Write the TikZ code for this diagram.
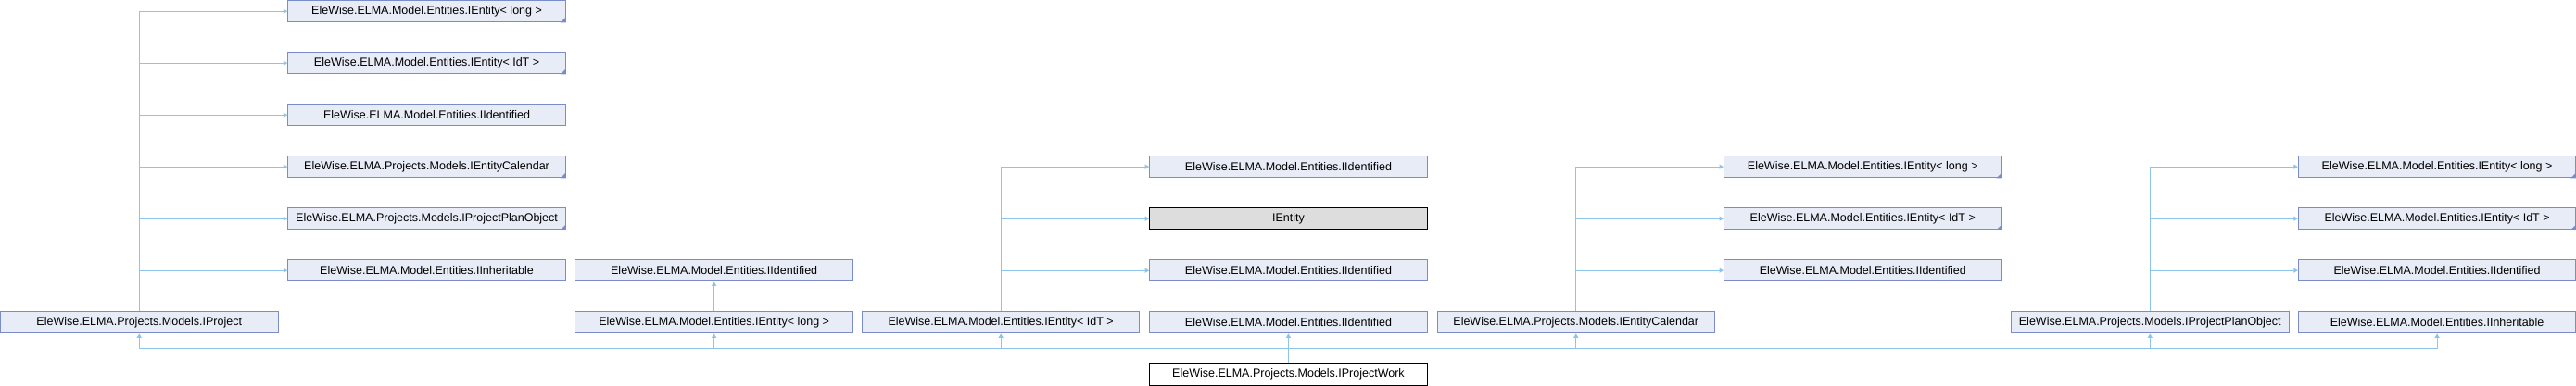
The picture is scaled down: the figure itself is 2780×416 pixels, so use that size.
\documentclass[tikz,border=0pt]{standalone}
\usepackage{fontspec}
\setmainfont{Liberation Sans}
\usetikzlibrary{arrows.meta,calc}
\definecolor{edgec}{HTML}{8DC5EA}
\definecolor{boxc}{HTML}{E8ECF6}
\definecolor{bordc}{HTML}{7B8DC8}
\definecolor{grayc}{HTML}{DDDDDD}
\tikzset{
  box/.style={draw=bordc, fill=boxc, line width=1pt, minimum width=299.5pt,
    minimum height=23.3pt, inner sep=0pt, anchor=north west,
    font=\fontsize{12.5}{14}\selectfont},
  graybox/.style={box, draw=black, fill=grayc},
  mainbox/.style={box, draw=black, fill=white},
  edge/.style={draw=edgec, line width=1.1pt, -{Triangle[length=4.5pt,width=5pt]}},
  trunc/.style={fill=bordc}
}
\newcommand{\truncmark}[1]{\fill[trunc] (#1.south east) -- ++(-6,0) -- ++(6,-6) -- cycle;}
\begin{document}
\begin{tikzpicture}[x=1pt,y=-1pt]
\useasboundingbox (0,0) rectangle (2780,416);
% column 0/1
\node[box] (p) at (0,336) {EleWise.ELMA.Projects.Models.IProject};
\node[box] (a0) at (310.3,0) {EleWise.ELMA.Model.Entities.IEntity< long >};
\node[box] (a1) at (310.3,56) {EleWise.ELMA.Model.Entities.IEntity< IdT >};
\node[box] (a2) at (310.3,112) {EleWise.ELMA.Model.Entities.IIdentified};
\node[box] (a3) at (310.3,168) {EleWise.ELMA.Projects.Models.IEntityCalendar};
\node[box] (a4) at (310.3,224) {EleWise.ELMA.Projects.Models.IProjectPlanObject};
\node[box] (a5) at (310.3,280) {EleWise.ELMA.Model.Entities.IInheritable};
% column 2
\node[box] (b1i) at (620.4,280) {EleWise.ELMA.Model.Entities.IIdentified};
\node[box] (b1) at (620.4,336) {EleWise.ELMA.Model.Entities.IEntity< long >};
% column 3/4
\node[box] (c) at (929.9,336) {EleWise.ELMA.Model.Entities.IEntity< IdT >};
\node[box] (c0) at (1240.2,168) {EleWise.ELMA.Model.Entities.IIdentified};
\node[graybox] (c1) at (1240.2,224) {IEntity};
\node[box] (c2) at (1240.2,280) {EleWise.ELMA.Model.Entities.IIdentified};
\node[box] (d) at (1240.2,336) {EleWise.ELMA.Model.Entities.IIdentified};
\node[mainbox] (w) at (1240.2,392.3) {EleWise.ELMA.Projects.Models.IProjectWork};
% column 5/6
\node[box] (e) at (1550.5,336) {EleWise.ELMA.Projects.Models.IEntityCalendar};
\node[box] (e0) at (1860,168) {EleWise.ELMA.Model.Entities.IEntity< long >};
\node[box] (e1) at (1860,224) {EleWise.ELMA.Model.Entities.IEntity< IdT >};
\node[box] (e2) at (1860,280) {EleWise.ELMA.Model.Entities.IIdentified};
% column 7/8
\node[box] (f) at (2170,336) {EleWise.ELMA.Projects.Models.IProjectPlanObject};
\node[box] (f0) at (2479.8,168) {EleWise.ELMA.Model.Entities.IEntity< long >};
\node[box] (f1) at (2479.8,224) {EleWise.ELMA.Model.Entities.IEntity< IdT >};
\node[box] (f2) at (2479.8,280) {EleWise.ELMA.Model.Entities.IIdentified};
\node[box] (g) at (2479.8,336) {EleWise.ELMA.Model.Entities.IInheritable};
% truncation marks
\truncmark{a0}\truncmark{a1}\truncmark{a3}\truncmark{a4}
\truncmark{e0}\truncmark{e1}\truncmark{f0}\truncmark{f1}
% trunks
\foreach \t in {a0,a1,a2,a3,a4,a5} \draw[edge] (p.north) |- (\t.west);
\draw[edge] (b1.north) -- (b1i.south);
\foreach \t in {c0,c1,c2} \draw[edge] (c.north) |- (\t.west);
\foreach \t in {e0,e1,e2} \draw[edge] (e.north) |- (\t.west);
\foreach \t in {f0,f1,f2} \draw[edge] (f.north) |- (\t.west);
% bus from IProjectWork
\coordinate (bus) at ($(w.north)+(0,-16)$);
\draw[edge] (w.north) -- (d.south);
\foreach \t in {p,b1,c,e,f,g} \draw[edge] (bus) -| (\t.south);
\end{tikzpicture}
\end{document}
